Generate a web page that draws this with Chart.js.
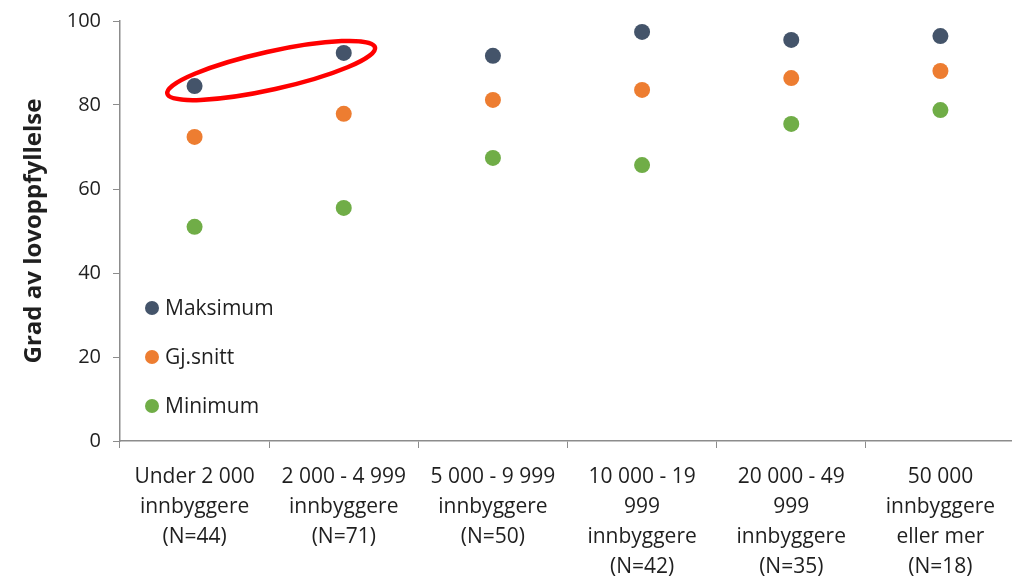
<!DOCTYPE html>
<html>
<head>
<meta charset="utf-8">
<script src="https://cdn.jsdelivr.net/npm/chart.js@4"></script>
<style>
  html, body { margin: 0; padding: 0; background: #fff; overflow: hidden; }
  #wrap { width: 1023px; height: 580px; }
</style>
</head>
<body>
<div id="wrap"><canvas id="chart"></canvas></div>
<script>
// Categories (municipality size)
const categories = [
    ['Under 2 000', 'innbyggere', '(N=44)'],
    ['2 000 - 4 999', 'innbyggere', '(N=71)'],
    ['5 000 - 9 999', 'innbyggere', '(N=50)'],
    ['10 000 - 19', '999', 'innbyggere', '(N=42)'],
    ['20 000 - 49', '999', 'innbyggere', '(N=35)'],
    ['50 000', 'innbyggere', 'eller mer', '(N=18)']
];
const maksimum = [84.5, 92.4, 91.7, 97.4, 95.5, 96.4];
const gjSnitt = [72.4, 77.9, 81.2, 83.6, 86.4, 88.1];
const minimum = [51.0, 55.5, 67.4, 65.7, 75.5, 78.8];
const yTicks = [0, 20, 40, 60, 80, 100];

const FONT = '"Open Sans", Lato, sans-serif';
const TEXT = '#1f1f1f';
const AXIS = '#8c8c8c';

// Legend drawn inside the plot area, bottom left
const insideLegend = {
    id: 'insideLegend',
    afterDatasetsDraw(chart) {
        const { ctx, chartArea } = chart;
        const offsets = [133, 84, 35];
        ctx.save();
        ctx.font = '21px ' + FONT;
        ctx.textBaseline = 'middle';
        chart.data.datasets.forEach((ds, i) => {
            const y = chartArea.bottom - offsets[i];
            const x = chartArea.left + 32;
            ctx.beginPath();
            ctx.arc(x, y, 7, 0, Math.PI * 2);
            ctx.fillStyle = ds.backgroundColor;
            ctx.fill();
            ctx.fillStyle = TEXT;
            ctx.fillText(ds.label, x + 13, y + 1);
        });
        ctx.restore();
    }
};

// Red ellipse around the first two maximum points
const highlight = {
    id: 'highlight',
    afterDatasetsDraw(chart) {
        const { ctx } = chart;
        const meta = chart.getDatasetMeta(0);
        const p0 = meta.data[0], p1 = meta.data[1];
        const cx = (p0.x + p1.x) / 2 + 2;
        const cy = (p0.y + p1.y) / 2 + 1;
        const angle = Math.atan2(p1.y - p0.y, p1.x - p0.x);
        const half = Math.hypot(p1.x - p0.x, p1.y - p0.y) / 2;
        ctx.save();
        ctx.beginPath();
        ctx.ellipse(cx, cy, half + 30, 19, angle, 0, Math.PI * 2);
        ctx.strokeStyle = '#ff0000';
        ctx.lineWidth = 4.5;
        ctx.stroke();
        ctx.restore();
    }
};

const pointDataset = (label, data, color) => ({
    label: label,
    data: data,
    showLine: false,
    backgroundColor: color,
    borderColor: color,
    pointRadius: 8,
    pointHoverRadius: 8,
    pointBorderWidth: 0
});

new Chart(document.getElementById('chart'), {
    type: 'line',
    data: {
        labels: categories,
        datasets: [
            pointDataset('Maksimum', maksimum, '#44546a'),
            pointDataset('Gj.snitt', gjSnitt, '#ed7d31'),
            pointDataset('Minimum', minimum, '#70ad47')
        ]
    },
    options: {
        responsive: true,
        maintainAspectRatio: false,
        animation: false,
        layout: { padding: { top: 21, right: 0, left: 0, bottom: 0 } },
        plugins: {
            legend: { display: false },
            tooltip: { enabled: false }
        },
        scales: {
            x: {
                offset: true,
                afterFit(scale) { scale.height = 139; },
                grid: {
                    offset: true,
                    drawOnChartArea: false,
                    drawTicks: true,
                    tickLength: 7,
                    color: AXIS
                },
                border: { color: AXIS, width: 1.5 },
                ticks: {
                    color: TEXT,
                    font: { family: FONT, size: 21, lineHeight: 30 / 21 },
                    maxRotation: 0,
                    autoSkip: false,
                    padding: 14
                }
            },
            y: {
                min: 0,
                max: 100,
                afterBuildTicks(scale) {
                    scale.ticks = yTicks.map(v => ({ value: v }));
                },
                afterFit(scale) {
                    scale.width = 120;
                    scale.paddingTop = 0;
                    scale.paddingBottom = 0;
                },
                grid: {
                    drawOnChartArea: false,
                    drawTicks: true,
                    tickLength: 7,
                    color: AXIS
                },
                border: { color: AXIS, width: 1.5 },
                ticks: {
                    color: TEXT,
                    font: { family: FONT, size: 20 },
                    padding: 12
                },
                title: {
                    display: true,
                    text: 'Grad av lovoppfyllelse',
                    color: TEXT,
                    font: { family: FONT, size: 24, weight: 'bold', lineHeight: 1.2 },
                    padding: { top: 20, bottom: 0 }
                }
            }
        }
    },
    plugins: [insideLegend, highlight]
});
</script>
</body>
</html>
